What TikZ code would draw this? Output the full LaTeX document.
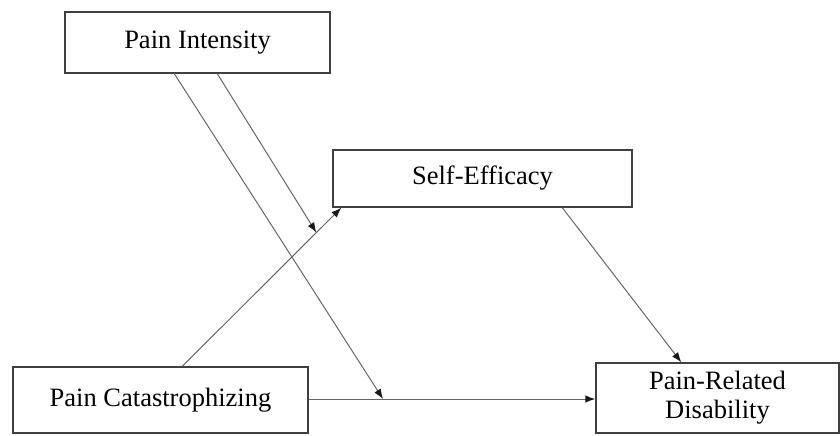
\documentclass[tikz,border=0pt]{standalone}
\usepackage{fontspec}
\setmainfont{Liberation Serif}
\usetikzlibrary{arrows.meta,calc}
\tikzstyle{var}=[draw=black!75,
                 line width=1.4pt,
                 fill=white,
                 inner sep=0pt,
                 align=center,
                 font=\fontsize{26.5}{29}\selectfont]
\tikzstyle{link}=[draw=black!60,
                  line width=1pt,
                  -{Latex[length=10pt,width=7.5pt,color=black!90]}]

\begin{document}
\begin{tikzpicture}[x=1pt,y=-1pt]
    \useasboundingbox (0,0) rectangle (840,436);
    \node[var, minimum width=265pt, minimum height=61pt] (intensity) at (197.5,42.5) {Pain Intensity};
    \node[var, minimum width=299pt, minimum height=57pt] (efficacy) at (482.5,178.5) {Self-Efficacy};
    \node[var, minimum width=295pt, minimum height=66pt] (catastroph) at (160.5,400) {Pain Catastrophizing};
    \node[var, minimum width=243pt, minimum height=70pt] (disability) at (717.5,398) {Pain-Related\\ Disability};
    % points where the moderation arrows meet the paths
    \coordinate (cs) at ($([xshift=170pt]catastroph.north west)!0.843!([xshift=9pt]efficacy.south west)$);
    \coordinate (cd) at (383,399);
    \path[link] ([xshift=170pt]catastroph.north west) -- ([xshift=9pt]efficacy.south west);
    \path[link] (catastroph.east |- cd) -- (disability.west |- cd);
    \path[link] ([xshift=230pt]efficacy.south west) -- ([xshift=86pt]disability.north west);
    \path[link] ([xshift=110pt]intensity.south west) -- (cd);
    \path[link] ([xshift=153pt]intensity.south west) -- (cs);
\end{tikzpicture}
\end{document}
